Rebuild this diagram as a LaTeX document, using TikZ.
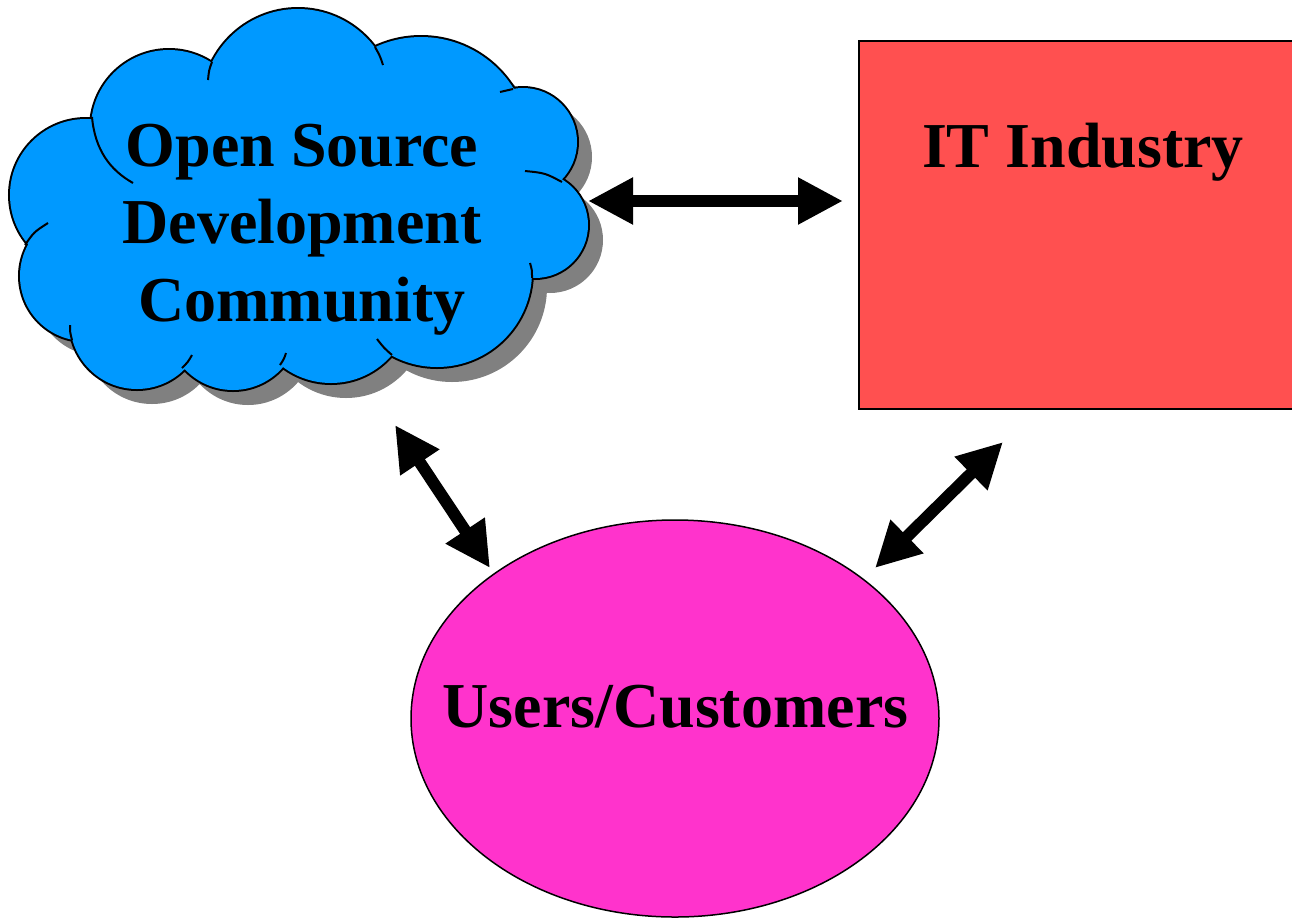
\documentclass[tikz,border=0pt]{standalone}
\usepackage{fontspec}
\setmainfont{Liberation Serif}
\usetikzlibrary{arrows.meta}
\definecolor{cloudblue}{HTML}{0099FF}
\definecolor{shadowgrey}{HTML}{808080}
\definecolor{itred}{HTML}{FF5050}
\definecolor{usermag}{HTML}{FF33CC}
\tikzset{
  bigtext/.style={font=\fontsize{64pt}{77.5pt}\selectfont\bfseries, inner sep=0pt},
  dblarrow/.style={line width=12pt, {Triangle[length=45pt,width=44pt]}-{Triangle[length=45pt,width=44pt]}},
  cloudtail/.style={line width=2pt},
  shapeline/.style={draw=black, line width=2pt},
}
\def\cloudlobes{(86,195) circle[radius=76pt] (169,128) circle[radius=78pt] (298,105) circle[radius=96pt] (421,146) circle[radius=109pt] (523,142) circle[radius=54pt] (535,225) circle[radius=53pt] (437,272) circle[radius=95pt] (331,303) circle[radius=80pt] (233,324) circle[radius=66pt] (137,322) circle[radius=67pt] (85,276) circle[radius=65pt]}
\def\cloudcore{(300,210) circle[radius=150pt] (150,260) circle[radius=80pt]}
\begin{document}
\begin{tikzpicture}[x=1pt,y=-1pt]
\useasboundingbox (0,0) rectangle (1292,919);
% cloud shadow
\begin{scope}[shift={(15,15)}]
\fill[shadowgrey] \cloudlobes \cloudcore;
\end{scope}
% cloud outline and fill
\draw[line width=4pt] \cloudlobes;
\fill[cloudblue] \cloudlobes \cloudcore;
% inner tails of the cloud lobes
\draw[cloudtail] (92,117) .. controls (95,150) and (110,170) .. (133,183);
\draw[cloudtail] (212,62) .. controls (209,70) .. (208,80);
\draw[cloudtail] (375,47) .. controls (380,56) .. (383,65);
\draw[cloudtail] (513,89) .. controls (506,90) .. (500,92);
\draw[cloudtail] (562,182) .. controls (545,173) .. (525,171);
\draw[cloudtail] (532,278) .. controls (532,270) .. (530,263);
\draw[cloudtail] (392,355) .. controls (384,348) .. (377,339);
\draw[cloudtail] (280,365) .. controls (284,359) .. (286,353);
\draw[cloudtail] (182,368) .. controls (188,362) .. (192,355);
\draw[cloudtail] (72,340) .. controls (70,332) .. (70,325);
\draw[cloudtail] (25,245) .. controls (34,232) .. (48,223);
\node[bigtext, anchor=base] (osdc) at (302,166)
  {\begin{tabular}[t]{@{}c@{}}Open Source\\Development\\Community\end{tabular}};
% IT industry box
\draw[shapeline, fill=itred] (859,41) rectangle (1310,409);
\node[bigtext, anchor=base] (it) at (1083,167) {IT Industry};
% users ellipse
\draw[draw=black, line width=1.5pt, fill=usermag] (675,718.5) ellipse [x radius=264pt, y radius=198.5pt];
\node[bigtext, anchor=base] (users) at (675.5,727) {Users/Customers};
% connectors
\coordinate (osdc-r) at (588,201);
\coordinate (it-l) at (843,201);
\coordinate (osdc-b) at (395,425);
\coordinate (users-nw) at (490,568);
\coordinate (it-b) at (1003,442);
\coordinate (users-ne) at (875,568);
\draw[dblarrow] (osdc-r) -- (it-l);
\draw[dblarrow] (osdc-b) -- (users-nw);
\draw[dblarrow] (it-b) -- (users-ne);
\end{tikzpicture}
\end{document}
